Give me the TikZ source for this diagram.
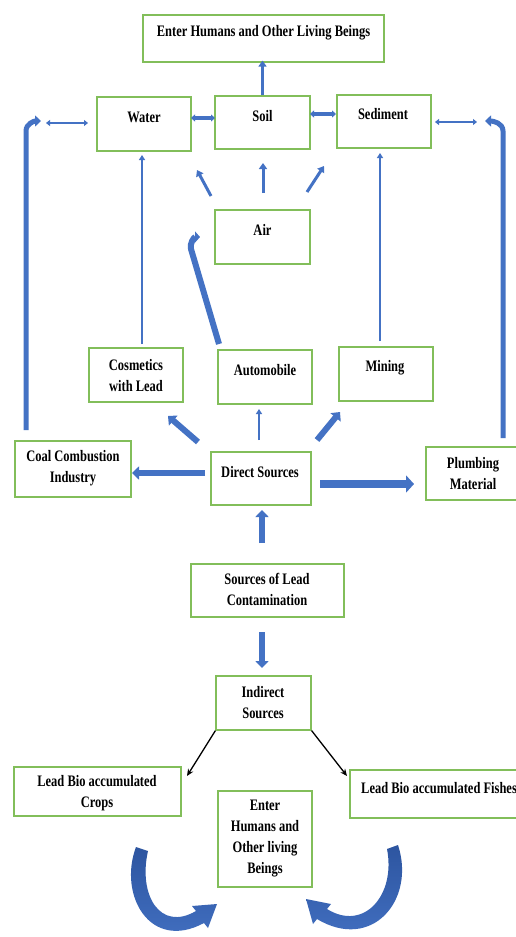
\documentclass[tikz,border=0pt]{standalone}
\usepackage{fontspec}
\setmainfont{Liberation Serif}[FakeStretch=0.78]
\usetikzlibrary{arrows.meta}
\definecolor{boxgreen}{RGB}{130,190,90}
\definecolor{arrblue}{RGB}{68,114,196}
\definecolor{darkblue}{RGB}{45,85,160}
\begin{document}
\begin{tikzpicture}[x=1pt,y=-1pt,
  box/.style={draw=boxgreen,line width=1.2pt,inner sep=0pt,fill=white},
  txt/.style={font=\fontsize{16}{21}\selectfont\bfseries,align=center,inner sep=0pt,text=black},
  thinarr/.style={draw=arrblue,line width=2pt,-{Triangle[length=5pt,width=6pt]}},
  medarr/.style={draw=arrblue,line width=3pt,-{Triangle[length=6pt,width=8pt]}},
  dblarr/.style={draw=arrblue,line width=3.5pt,{Triangle[length=4pt,width=7pt]}-{Triangle[length=4pt,width=7pt]}},
  dblthin/.style={draw=arrblue,line width=2pt,{Triangle[length=4pt,width=6pt]}-{Triangle[length=4pt,width=6pt]}},
  blockarr/.style={draw=arrblue,line width=6pt,-{Triangle[length=7pt,width=13pt]}},
  bigarr/.style={draw=arrblue,line width=8pt,-{Triangle[length=8pt,width=17pt]}},
  bentarr/.style={draw=arrblue,line width=5pt,-{Triangle[length=6pt,width=11pt]}},
  blkarr/.style={draw=black,line width=1.3pt,-{Stealth[length=7pt,width=6pt]}},
  curvarr/.style={draw=none,top color=darkblue,bottom color=arrblue}
]
\useasboundingbox (0,0) rectangle (516,937);
\clip (0,0) rectangle (516,937);
\fill[white] (0,0) rectangle (516,937);

% boxes
\node[box,minimum width=241pt,minimum height=47pt] (top) at (263.5,38.5) {};
\node[box,minimum width=94pt,minimum height=54pt] (water) at (144,124) {};
\node[box,minimum width=95pt,minimum height=53pt] (soil) at (262.5,122.5) {};
\node[box,minimum width=94pt,minimum height=53pt] (sediment) at (384,121.5) {};
\node[box,minimum width=95pt,minimum height=54pt] (air) at (262.5,237) {};
\node[box,minimum width=94pt,minimum height=54pt] (cosmetics) at (136,375) {};
\node[box,minimum width=94pt,minimum height=54pt] (automobile) at (265,377) {};
\node[box,minimum width=94pt,minimum height=54pt] (mining) at (386,374) {};
\node[box,minimum width=116pt,minimum height=56pt] (coal) at (73,469) {};
\node[box,minimum width=100pt,minimum height=53pt] (direct) at (261,478.5) {};
\node[box,minimum width=94pt,minimum height=53pt] (plumbing) at (473,473.5) {};
\node[box,minimum width=153pt,minimum height=53pt] (sources) at (267.5,590.5) {};
\node[box,minimum width=95pt,minimum height=54pt] (indirect) at (263.5,703) {};
\node[box,minimum width=167pt,minimum height=49pt] (crops) at (97.5,791.5) {};
\node[box,minimum width=170pt,minimum height=48pt] (fishes) at (435,794) {};
\node[box,minimum width=94pt,minimum height=96pt] (enter2) at (265,839) {};

% texts
\node[txt] (ttop) at (263.5,33) {Enter Humans and Other Living Beings};
\node[txt] (twater) at (144,117) {Water};
\node[txt] (tsoil) at (262.5,116) {Soil};
\node[txt] (tsediment) at (383,114) {Sediment};
\node[txt] (tair) at (262.5,230) {Air};
\node[txt] (tcosmetics) at (136,375.5) {Cosmetics\\with Lead};
\node[txt] (tautomobile) at (265,370) {Automobile};
\node[txt] (tmining) at (385,368) {Mining};
\node[txt] (tcoal) at (73,468.5) {Coal Combustion\\Industry};
\node[txt] (tdirect) at (260,472) {Direct Sources};
\node[txt] (tplumbing) at (473,473.5) {Plumbing\\Material};
\node[txt] (tsources) at (267,589) {Sources of Lead\\Contamination};
\node[txt] (tindirect) at (263,702.5) {Indirect\\Sources};
\node[txt] (tcrops) at (97,793.5) {Lead Bio accumulated\\Crops};
\node[txt,anchor=west] (tfishes) at (361,788) {Lead Bio accumulated Fishes};
\node[txt] (tenter2) at (265,838.5) {Enter\\Humans and\\Other living\\Beings};

% coordinates for free ends
\coordinate (wsL) at (191,118); \coordinate (wsR) at (215,118);
\coordinate (ssL) at (310,114); \coordinate (ssR) at (336,114);
\coordinate (lwA) at (46,123); \coordinate (lwB) at (88,123);
\coordinate (rsA) at (435,122); \coordinate (rsB) at (477,122);
\coordinate (lbend) at (26,430); \coordinate (lbtip) at (41,121);
\coordinate (rbend) at (503,438); \coordinate (rbtip) at (485,121);
\coordinate (cosTop) at (142,344); \coordinate (watBot) at (142,155);
\coordinate (minTop) at (380,341); \coordinate (sedBot) at (380,153);
\coordinate (aL1) at (211,196); \coordinate (aL2) at (197,170);
\coordinate (aM1) at (263,193); \coordinate (aM2) at (263,163);
\coordinate (aR1) at (307,192); \coordinate (aR2) at (324,166);
\coordinate (autoA) at (219,344); \coordinate (autoTip) at (200,237);
\coordinate (dC1) at (198,442); \coordinate (dC2) at (168,416);
\coordinate (dA1) at (259,440); \coordinate (dA2) at (259,409);
\coordinate (dM1) at (317,440); \coordinate (dM2) at (340,412);
\coordinate (dCo1) at (205,473); \coordinate (dCo2) at (132,473);
\coordinate (dP1) at (320,484); \coordinate (dP2) at (414,484);
\coordinate (sD1) at (262,543); \coordinate (sD2) at (262,510);
\coordinate (sI1) at (262,632); \coordinate (sI2) at (262,668);
\coordinate (iC2) at (187,776); \coordinate (iF2) at (347,776);

% arrows
\draw[medarr] (soil.north) -- ([yshift=2pt]soil.north |- top.south);
\draw[dblarr] (wsL) -- (wsR);
\draw[dblarr] (ssL) -- (ssR);
\draw[dblthin] (lwA) -- (lwB);
\draw[dblthin] (rsA) -- (rsB);
\draw[bentarr] (lbend) -- (26,131) to[out=90,in=180] (lbtip);
\draw[bentarr] (rbend) -- (503,131) to[out=90,in=0] (rbtip);
\draw[thinarr] (cosTop) -- (watBot);
\draw[thinarr] (minTop) -- (sedBot);
\draw[medarr] (aL1) -- (aL2);
\draw[medarr] (aM1) -- (aM2);
\draw[medarr] (aR1) -- (aR2);
\draw[draw=arrblue,line width=6pt,-{Triangle[length=5pt,width=11pt]}] (autoA) -- (191,249) to[out=105,in=180] (autoTip);
\draw[blockarr] (dC1) -- (dC2);
\draw[thinarr] (dA1) -- (dA2);
\draw[blockarr] (dM1) -- (dM2);
\draw[blockarr] (dCo1) -- (dCo2);
\draw[bigarr] (dP1) -- (dP2);
\draw[blockarr] (sD1) -- (sD2);
\draw[blockarr] (sI1) -- (sI2);
\draw[blkarr] (indirect.south west) -- (iC2);
\draw[blkarr] (indirect.south east) -- (iF2);

% curved block arrows
\path[curvarr] (136,847) .. controls (118,895) and (150,952) .. (204,923) -- (208,928) -- (217,904) -- (192,906) -- (196,911) .. controls (160,932) and (138,895) .. (148,851) -- cycle;
\path[curvarr] (398,845) .. controls (416,900) and (372,952) .. (317,919) -- (313,924) -- (306,899) -- (331,904) -- (327,909) .. controls (364,932) and (396,895) .. (387,849) -- cycle;
\end{tikzpicture}
\end{document}
